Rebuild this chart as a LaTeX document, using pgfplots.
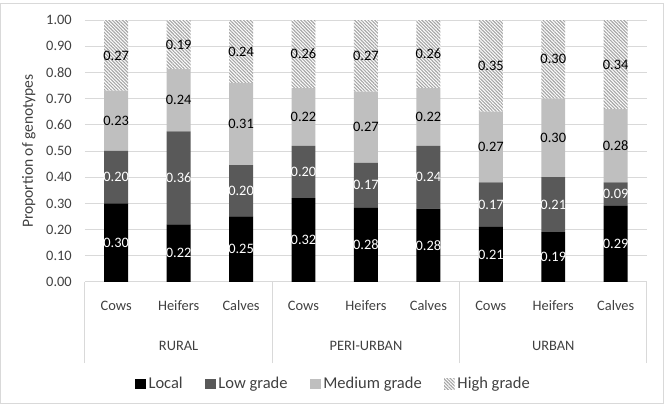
\documentclass[border=0pt]{standalone}
\usepackage{pgfplots}
\pgfplotsset{compat=1.18}
\usepackage{pgfplotstable}
\usetikzlibrary{patterns.meta}
\usepackage{fontspec}
\setmainfont{Carlito}
\definecolor{gridgray}{HTML}{D9D9D9}
\definecolor{lowgrade}{HTML}{595959}
\definecolor{medgrade}{HTML}{BFBFBF}
\definecolor{hatchgray}{HTML}{A6A6A6}
\definecolor{txt}{HTML}{404040}

% segment values (Local, Low grade, Medium grade, High grade)
\pgfplotstableread{
x local low medium high
0 0.30 0.20 0.23 0.27
1 0.22 0.355 0.238 0.187
2 0.25 0.196 0.314 0.24
3 0.32 0.20 0.22 0.26
4 0.283 0.172 0.272 0.273
5 0.28 0.24 0.22 0.26
6 0.21 0.17 0.27 0.35
7 0.19 0.21 0.30 0.30
8 0.29 0.09 0.28 0.34
}\bars

% label positions (segment centres) and label texts
\pgfplotstableread{
x yl tl ylo tlo ym tm yh th
0 0.150 0.30 0.400 0.20 0.615 0.23 0.865 0.27
1 0.110 0.22 0.398 0.36 0.694 0.24 0.907 0.19
2 0.125 0.25 0.348 0.20 0.603 0.31 0.880 0.24
3 0.160 0.32 0.420 0.20 0.630 0.22 0.870 0.26
4 0.142 0.28 0.369 0.17 0.591 0.27 0.864 0.27
5 0.140 0.28 0.400 0.24 0.630 0.22 0.870 0.26
6 0.105 0.21 0.295 0.17 0.515 0.27 0.825 0.35
7 0.095 0.19 0.295 0.21 0.550 0.30 0.850 0.30
8 0.145 0.29 0.335 0.09 0.520 0.28 0.830 0.34
}\labels

\pgfplotsset{
  sq legend/.style={legend image code/.code={\draw[##1, draw=none] (0pt,-3.75pt) rectangle (7.5pt,3.75pt);}},
  geom/.style={at={(0,0)}, anchor=south west, scale only axis, width=401.4pt, height=187.1pt,
    xmin=-0.5, xmax=8.5, ymin=0, ymax=1},
}

\begin{document}
\begin{tikzpicture}
\useasboundingbox (-60.7pt,-88.6pt) rectangle (414.3pt,201.4pt);
\draw[gridgray, line width=0.7pt] (-60.0pt,-87.1pt) rectangle (412.9pt,198.6pt);
\begin{axis}[
  geom,
  ybar stacked, bar width=17.1pt,
  axis x line*=bottom, axis y line*=left,
  x axis line style={gridgray, line width=0.7pt},
  y axis line style={draw=none},
  ymajorgrids, grid style={gridgray, line width=0.7pt},
  major tick length=0pt,
  tick style={gridgray, line width=0.7pt},
  ytick={0,0.1,0.2,0.3,0.4,0.5,0.6,0.7,0.8,0.9,1},
  scaled y ticks=false,
  /pgf/number format/.cd, fixed, fixed zerofill, precision=2, assume math mode=true, /pgfplots/.cd,
  yticklabel style={anchor=east, xshift=-5.9pt},
  xtick={0,1,2,3,4,5,6,7,8},
  xticklabels={Cows,Heifers,Calves,Cows,Heifers,Calves,Cows,Heifers,Calves},
  xticklabel style={anchor=base, yshift=-20.4pt},
  tick label style={font=\fontsize{10.3}{12}\selectfont, text=txt},
  extra x ticks={-0.5,2.5,5.5,8.5},
  extra x tick labels={},
  extra x tick style={major tick length=57.9pt, tick align=outside, tick style={gridgray, line width=0.7pt}},
  ylabel={Proportion of genotypes},
  ylabel style={at={(axis description cs:-0.1,0.5)}, anchor=center, font=\fontsize{11.1}{13}\selectfont, text=txt},
  legend columns=4,
  legend style={at={(0.443,-0.389)}, anchor=center, draw=none, fill=none,
    font=\fontsize{11.8}{14}\selectfont, text=txt,
    /tikz/every even column/.append style={column sep=14pt}},
  clip=false,
]
\addplot[fill=black, draw=none, sq legend] table[x=x, y=local] {\bars};
\addlegendentry{Local}
\addplot[fill=lowgrade, draw=none, sq legend] table[x=x, y=low] {\bars};
\addlegendentry{Low grade}
\addplot[fill=medgrade, draw=none, sq legend] table[x=x, y=medium] {\bars};
\addlegendentry{Medium grade}
\addplot[fill=white, draw=none, sq legend,
  postaction={pattern color=hatchgray, pattern={Lines[angle=-45, distance=1.7pt, line width=0.8pt]}}]
  table[x=x, y=high] {\bars};
\addlegendentry{High grade}
\node[anchor=base, font=\fontsize{10.3}{12}\selectfont, text=txt, yshift=-48.9pt] at (axis cs:1,0) {RURAL};
\node[anchor=base, font=\fontsize{10.3}{12}\selectfont, text=txt, yshift=-48.9pt] at (axis cs:4,0) {PERI-URBAN};
\node[anchor=base, font=\fontsize{10.3}{12}\selectfont, text=txt, yshift=-48.9pt] at (axis cs:7,0) {URBAN};
\end{axis}
\begin{axis}[geom, hide axis, clip=false,
  nodes near coords, point meta=explicit symbolic, nodes near coords align={center},
  every node near coord/.append style={font=\fontsize{10.3}{12}\selectfont, inner sep=0pt}]
\addplot[draw=none, every node near coord/.append style={text=white}] table[x=x, y=yl, meta=tl] {\labels};
\addplot[draw=none, every node near coord/.append style={text=white}] table[x=x, y=ylo, meta=tlo] {\labels};
\addplot[draw=none, every node near coord/.append style={text=black}] table[x=x, y=ym, meta=tm] {\labels};
\addplot[draw=none, every node near coord/.append style={text=black}] table[x=x, y=yh, meta=th] {\labels};
\end{axis}
\end{tikzpicture}
\end{document}
